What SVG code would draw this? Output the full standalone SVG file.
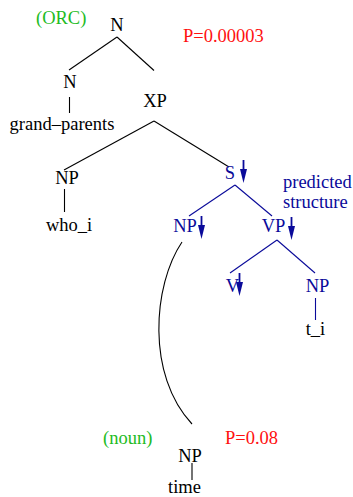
<svg xmlns="http://www.w3.org/2000/svg" width="353" height="497" viewBox="0 0 353 497" font-family="'Liberation Serif', 'DejaVu Serif', serif">
<defs>
<style>
text{font-family:'Liberation Serif','DejaVu Serif',serif;font-size:18.5px;}
.k{fill:#000}
.b{fill:#0a0a9a}
.g{fill:#22bb22}
.r{fill:#ff1010}
.lk{stroke:#000;stroke-width:1.1;fill:none}
.lb{stroke:#0a0a9a;stroke-width:1.1;fill:none}
.ar{stroke:#0a0a9a;stroke-width:1.8}
.ah{fill:#0a0a9a}
</style>
<g id="arrow">
<line class="ar" x1="0" y1="0" x2="0" y2="12"/>
<polygon class="ah" points="-3.5,9 3.5,9 0,23"/>
</g>
</defs>
<rect width="353" height="497" fill="#fff"/>
<g id="connectors">
<line class="lk" x1="117" y1="37" x2="69" y2="70"/>
<line class="lk" x1="117" y1="37" x2="154" y2="70.5"/>
<line class="lk" x1="69.5" y1="97" x2="69.5" y2="113"/>
<line class="lk" x1="154" y1="121" x2="64" y2="170"/>
<line class="lk" x1="154" y1="121" x2="229" y2="167"/>
<line class="lk" x1="64.5" y1="189" x2="64.5" y2="212"/>
<line class="lb" x1="235" y1="185" x2="189" y2="216"/>
<line class="lb" x1="235" y1="185" x2="272" y2="216"/>
<line class="lb" x1="277" y1="240" x2="230" y2="273"/>
<line class="lb" x1="277" y1="240" x2="315" y2="273"/>
<line class="lb" x1="315.5" y1="298" x2="315.5" y2="320"/>
<path class="lk" d="M182,242 C153,285 146,375 192,424"/>
<line class="lk" x1="192" y1="463" x2="192" y2="480"/>
</g>
<g id="orc"><text class="g" x="36" y="24">(ORC)</text></g>
<g id="p1"><text class="r" x="183" y="42">P=0.00003</text></g>
<g id="n-top"><text class="k" x="117" y="31" text-anchor="middle">N</text></g>
<g id="n"><text class="k" x="70" y="88" text-anchor="middle">N</text></g>
<g id="grandparents"><text class="k" x="62" y="130" text-anchor="middle">grand–parents</text></g>
<g id="xp"><text class="k" x="155" y="107" text-anchor="middle">XP</text></g>
<g id="np-who"><text class="k" x="67" y="184" text-anchor="middle">NP</text></g>
<g id="who"><text class="k" x="69" y="231" text-anchor="middle">who_i</text></g>
<g id="s"><text class="b" x="230" y="179" text-anchor="middle">S</text><use href="#arrow" x="243.5" y="160"/></g>
<g id="predicted"><text class="b" x="283" y="188">predicted</text><text class="b" x="283" y="208">structure</text></g>
<g id="np-blue"><text class="b" x="185" y="232" text-anchor="middle">NP</text><use href="#arrow" x="201.5" y="216"/></g>
<g id="vp"><text class="b" x="273.5" y="232" text-anchor="middle">VP</text><use href="#arrow" x="291.5" y="217"/></g>
<g id="v"><text class="b" x="232.5" y="292" text-anchor="middle">V</text><use href="#arrow" x="239.5" y="273"/></g>
<g id="np-t"><text class="b" x="317.5" y="292" text-anchor="middle">NP</text></g>
<g id="ti"><text class="k" x="315.5" y="335" text-anchor="middle">t_i</text></g>
<g id="noun"><text class="g" x="103" y="444">(noun)</text></g>
<g id="p2"><text class="r" x="225" y="444">P=0.08</text></g>
<g id="np-time"><text class="k" x="190" y="462" text-anchor="middle">NP</text></g>
<g id="time"><text class="k" x="184.5" y="493" text-anchor="middle">time</text></g>
</svg>
